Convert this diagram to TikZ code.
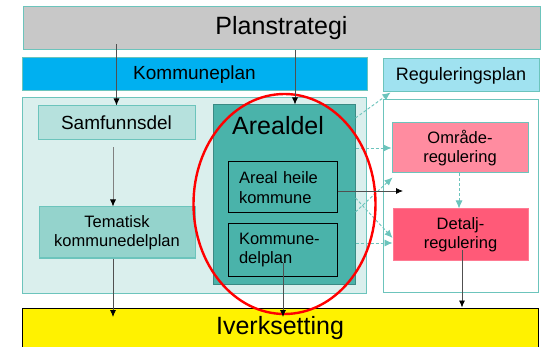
\documentclass[tikz,border=0pt]{standalone}
\usepackage{fontspec}
\setmainfont{Liberation Sans}
\usetikzlibrary{arrows.meta}
\definecolor{tealb}{HTML}{6CC4BC}
\definecolor{graybox}{HTML}{C8C8C8}
\definecolor{kblue}{HTML}{00B0F0}
\definecolor{rblue}{HTML}{A0E2F0}
\definecolor{lightarea}{HTML}{DAEFED}
\definecolor{samf}{HTML}{B6E1DD}
\definecolor{temat}{HTML}{94D3CC}
\definecolor{areal}{HTML}{4AB3AA}
\definecolor{arealb}{HTML}{3A8A84}
\definecolor{omr}{HTML}{FF8CA0}
\definecolor{det}{HTML}{FF5A78}
\definecolor{lineg}{HTML}{505050}
\tikzset{
  boxbase/.style={rectangle, inner sep=0pt, line width=1pt},
  bigfont/.style={font=\fontsize{25}{30}\selectfont},
  midfont/.style={font=\fontsize{19}{23}\selectfont},
  smallfont/.style={font=\fontsize{16.5}{19.5}\selectfont},
  blackarr/.style={draw=lineg, line width=0.8pt, -{Latex[length=7pt,width=6pt,black]}},
  dasharr/.style={draw=tealb, line width=0.9pt, dash pattern=on 3pt off 2pt, -{Latex[length=8pt,width=7pt,fill=tealb]}}
}
\begin{document}
\begin{tikzpicture}[x=1pt,y=-1pt]
\useasboundingbox (0,0) rectangle (551,347);
\clip (0,0) rectangle (551,347);
\fill[white] (0,0) rectangle (551,347);
% top boxes
\node[boxbase, draw=tealb, fill=graybox, minimum width=517pt, minimum height=43pt, bigfont] (ps) at (281.5,28.5) {Planstrategi};
\node[boxbase, draw=tealb, fill=kblue, minimum width=345pt, minimum height=33pt, midfont] (kp) at (194.5,74.5) {Kommuneplan};
\node[boxbase, draw=tealb, fill=rblue, minimum width=156pt, minimum height=33pt, font=\fontsize{18}{22}\selectfont] (rp) at (461,75.5) {Reguleringsplan};
% containers
\node[boxbase, draw=tealb, fill=lightarea, minimum width=344pt, minimum height=195pt] (la) at (194,195.5) {};
\node[boxbase, draw=tealb, fill=white, minimum width=155pt, minimum height=192pt] (wb) at (460.5,196) {};
% left column
\node[boxbase, draw=tealb, fill=samf, minimum width=157pt, minimum height=34pt, midfont] (sd) at (116.5,123) {Samfunnsdel};
\node[boxbase, draw=tealb, fill=temat, minimum width=156pt, minimum height=51pt, smallfont, align=center] (tk) at (117,232.5) {Tematisk\\kommunedelplan};
% Arealdel
\node[boxbase, draw=arealb, fill=areal, minimum width=142pt, minimum height=179pt] (ad) at (284,194.5) {};
\node[anchor=base west, inner sep=0pt, bigfont] (adt) at (232,135) {Arealdel};
\node[boxbase, draw=black, fill=areal, minimum width=109pt, minimum height=51pt, smallfont, align=left, text width=87pt, inner xsep=11pt] (ah) at (282.5,187.5) {Areal heile\\kommune};
\node[boxbase, draw=black, fill=areal, minimum width=109pt, minimum height=52pt, smallfont, align=left, text width=87pt, inner xsep=11pt] (kd) at (282.5,250) {Kommune-\\delplan};
% right column
\node[boxbase, draw=tealb, fill=omr, minimum width=136pt, minimum height=50pt, smallfont, align=center] (od) at (460,148) {Område-\\regulering};
\node[boxbase, draw=det!80!white, fill=det, minimum width=135pt, minimum height=51pt, smallfont, align=center] (dt) at (460.5,234.5) {Detalj-\\regulering};
% bottom
\node[boxbase, draw=black, fill=yellow, minimum width=516pt, minimum height=40pt, bigfont] (iv) at (280,328) {Iverksetting};
% dashed connectors
\draw[dasharr] (ad.east |- 0,118) -- ([xshift=8pt]rp.south west);
\draw[dasharr] (od.west -| ad.east) -- (od.west);
\draw[dasharr] ([yshift=-8.5pt]dt.west -| ad.east) -- ([yshift=-8.5pt]dt.west);
\draw[dasharr] (ad.east |- 0,212) -- ([shift={(1pt,-4pt)}]od.south west);
\draw[dasharr] (ad.east |- 0,198) -- ([yshift=-3.5pt]dt.west);
\draw[dasharr] (od.south -| 459,0) -- (dt.north -| 459,0);
% red ellipse
\draw[red, line width=2.4pt] (284.5,204) ellipse [x radius=91pt, y radius=110pt];
% black connectors
\coordinate (adin) at (295,0);
\draw[blackarr] (ps.south -| adin) -- (ad.north -| adin);
\draw[blackarr] ([yshift=6pt]ps.south -| sd.north) -- (sd.north);
\coordinate (tkx) at (113,0);
\draw[blackarr, draw=gray] ([yshift=-7pt]sd.south -| tkx) -- (tk.north -| tkx);
\coordinate (ivt) at (0,317);
\draw[blackarr] (tk.south -| tkx) -- (ivt -| tkx);
\coordinate (kdx) at (283,263);
\draw[blackarr] (kdx) -- (ivt -| kdx);
\coordinate (dtx) at (462,250);
\draw[blackarr] (dtx) -- (iv.north -| dtx);
\coordinate (bx) at (403,191);
\draw[blackarr] (bx -| ah.east) -- (bx);
\end{tikzpicture}
\end{document}
